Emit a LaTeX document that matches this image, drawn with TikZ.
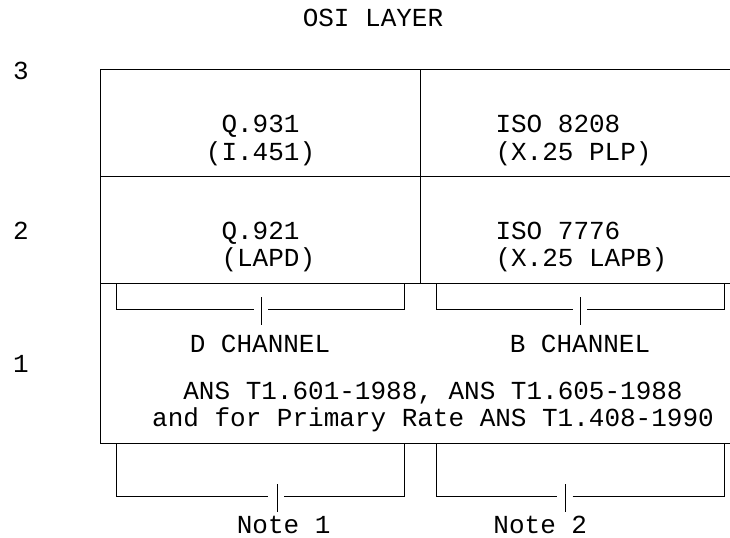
\documentclass[tikz,border=0pt]{standalone}
\usepackage{fontspec}
\setmonofont{Liberation Mono}
\usepackage{tikz}
\tikzset{
  lbl/.style={font=\ttfamily\fontsize{13}{15}\selectfont, inner sep=0pt, anchor=base},
  lblw/.style={lbl, anchor=base west}
}

\begin{document}
\begin{tikzpicture}[x=0.5pt,y=-0.5pt,line width=0.5pt]
\useasboundingbox (0,0) rectangle (730,537);
\node [lbl] (osi) at (373,26) {OSI LAYER};
\node [lbl] (layer3) at (21,79) {3};
\node [lbl] (layer2) at (21,239) {2};
\node [lbl] (layer1) at (21,372.3) {1};
% frame, open on the right
\draw (730,69.3) -- (100,69.3) -- (100,443.3) -- (730,443.3);
\draw (100,176.5) -- (730,176.5) (100,283.3) -- (730,283.3);
\draw (420,69.3) -- (420,283.3);
\node [lblw] (qa) at (221,132.7) {Q.931};
\node [lblw] (qb) at (205.4,160) {(I.451)};
\node [lblw] (isoa) at (495,132.7) {ISO 8208};
\node [lblw] (isob) at (495,160) {(X.25 PLP)};
\node [lblw] (qc) at (221,239.3) {Q.921};
\node [lblw] (qd) at (221,266.7) {(LAPD)};
\node [lblw] (isoc) at (495,239.3) {ISO 7776};
\node [lblw] (isod) at (495,266.7) {(X.25 LAPB)};
% channel brackets
\draw (116,283.3) |- (254,309.5) (268,309.5) -| (404,283.3) (261,297) -- (261,325);
\draw (436,283.3) |- (573,309.5) (587,309.5) -| (724,283.3) (580,297) -- (580,325);
\node [lbl] (dch) at (260,352) {D CHANNEL};
\node [lbl] (bch) at (580,352) {B CHANNEL};
\node [lbl] (ansa) at (433,399) {ANS T1.601-1988, ANS T1.605-1988};
\node [lbl] (ansb) at (433,426) {and for Primary Rate ANS T1.408-1990};
% note brackets
\draw (116,443.3) |- (267.7,496.7) (284.3,496.7) -| (404,443.3) (277.3,484) -- (277.3,512.3);
\draw (436,443.3) |- (557.3,496.7) (572.7,496.7) -| (724,443.3) (565,484) -- (565,512.3);
\node [lbl] (notea) at (283.7,533.3) {Note 1};
\node [lbl] (noteb) at (540.3,533.3) {Note 2};
\end{tikzpicture}
\end{document}
